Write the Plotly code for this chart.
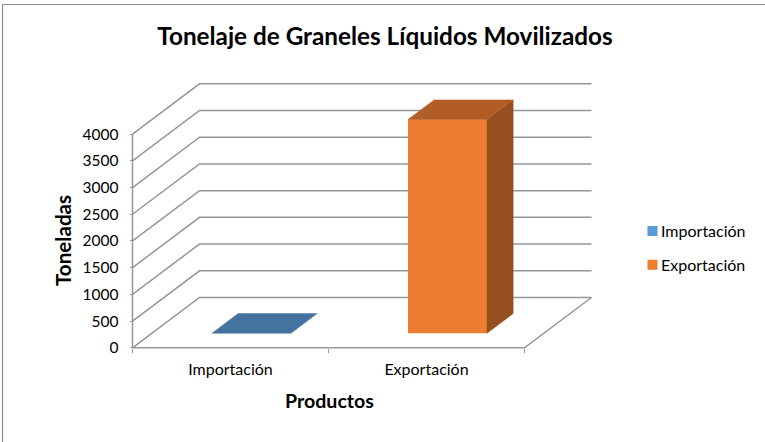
import plotly.graph_objects as go

# ---- data ----
categories = ["Importación", "Exportación"]
series_names = ["Importación", "Exportación"]
importacion = [0, None]
exportacion = [None, 4000]
y_ticks = [0, 500, 1000, 1500, 2000, 2500, 3000, 3500, 4000]

# ---- colours ----
colors_front = ["#5B9BD5", "#ED7D31"]
colors_top = ["#44739F", "#B25D25"]
colors_side = ["#3A6186", "#964F1E"]
grid = "#969696"
text = "#000000"

# ---- layout constants ----
W, H = 765, 442
PX0, PY0 = 132.5, 347.8      # pixel of category edge 0 / value 0
PX_CAT = 196.0               # pixels per category
PX_VAL = 213.7 / 4000        # pixels per value unit
DEPTH_X = 67.0 / PX_CAT      # full depth, in category units
DEPTH_Y = 50.3 / PX_VAL      # full depth, in value units
BAR_D0, BAR_D1 = 0.29, 0.68  # depth span of the bars
BAR_W = 0.403                # bar width, in category units
BAR_SHIFT = 0.008            # bar centre offset within the category

X_RANGE = [(0 - PX0) / PX_CAT, (W - PX0) / PX_CAT]
Y_RANGE = [(PY0 - H) / PX_VAL, PY0 / PX_VAL]


def proj(x, v, d):
    return x + d * DEPTH_X, v + d * DEPTH_Y


def line(points):
    xs, ys = zip(*[proj(*p) for p in points])
    return go.Scatter(x=xs, y=ys, mode="lines", showlegend=False, hoverinfo="skip",
                      line=dict(color=grid, width=1.5))


def face(points, color):
    xs, ys = zip(*[proj(*p) for p in points])
    return go.Scatter(x=list(xs) + [xs[0]], y=list(ys) + [ys[0]], mode="lines", fill="toself",
                      fillcolor=color, line=dict(color=color, width=0.5),
                      showlegend=False, hoverinfo="skip", xaxis="x2", yaxis="y2")


fig = go.Figure()

# walls and floor (bottom subplot)
n = len(categories)
for v in y_ticks:
    fig.add_trace(line([(0, v, 0), (0, v, 1), (n, v, 1)]))
fig.add_trace(line([(0, 0, 0), (0, y_ticks[-1], 0)]))
fig.add_trace(line([(0, 0, 0), (n, 0, 0), (n, 0, 1)]))

# bars (overlaid subplot, so they hide the grid behind them)
for s, (name, values) in enumerate(zip(series_names, [importacion, exportacion])):
    for c, v in enumerate(values):
        if v is None:
            continue
        xc = c + 0.5 + BAR_SHIFT
        x0 = xc - BAR_W / 2
        x1 = xc + BAR_W / 2
        if v > 0:
            fig.add_trace(face([(x1, 0, BAR_D0), (x1, 0, BAR_D1), (x1, v, BAR_D1), (x1, v, BAR_D0)], colors_side[s]))
        fig.add_trace(face([(x0, v, BAR_D0), (x1, v, BAR_D0), (x1, v, BAR_D1), (x0, v, BAR_D1)], colors_top[s]))
        fx, base = proj(xc, 0, BAR_D0)
        fig.add_trace(go.Bar(x=[fx], y=[v], base=[base], width=[BAR_W], name=name, legendgroup=name,
                             marker=dict(color=colors_front[s], line=dict(width=0)),
                             showlegend=True, xaxis="x2", yaxis="y2"))

font = "Lato"
fig.update_layout(
    width=W, height=H, autosize=False,
    margin=dict(l=0, r=0, t=0, b=0),
    paper_bgcolor="white", plot_bgcolor="rgba(0,0,0,0)",
    barmode="overlay",
    font=dict(family=font, color=text, size=16),
    title=dict(text="<b>Tonelaje de Graneles Líquidos Movilizados</b>", x=385 / W, xanchor="center",
               y=1 - 36 / H, yanchor="middle", font=dict(family=font, size=24.3, color=text)),
    legend=dict(x=632.5 / W, y=1 - 214 / H, xanchor="left", yanchor="top", bgcolor="rgba(0,0,0,0)",
                font=dict(family=font, size=16, color=text), traceorder="grouped", tracegroupgap=10,
                itemwidth=30),
    xaxis=dict(range=X_RANGE, domain=[0, 1], anchor="free",
               position=1 - PY0 / H, showgrid=False, zeroline=False, showline=False,
               tickmode="array", tickvals=[i + 0.5 for i in range(n)], ticktext=categories,
               ticks="", ticklabelstandoff=10, tickfont=dict(family=font, size=16, color=text),
               minor=dict(tickmode="array", tickvals=list(range(n + 1)), ticks="outside", ticklen=4,
                          tickcolor=grid, tickwidth=1.2, showgrid=False)),
    yaxis=dict(range=Y_RANGE, domain=[0, 1], anchor="free",
               position=PX0 / W, showgrid=False, zeroline=False, showline=False,
               tickmode="array", tickvals=y_ticks, ticks="outside", ticklen=3, tickcolor=grid,
               tickwidth=1.2, ticklabelstandoff=8, tickfont=dict(family=font, size=15.5, color=text)),
    xaxis2=dict(range=X_RANGE, domain=[0, 1], overlaying="x", visible=False),
    yaxis2=dict(range=Y_RANGE, domain=[0, 1], overlaying="y", visible=False),
    annotations=[
        dict(text="<b>Toneladas</b>", x=63 / W, y=1 - 241 / H, xref="paper", yref="paper", textangle=-90,
             showarrow=False, xanchor="center", yanchor="middle", font=dict(family=font, size=20.6, color=text)),
        dict(text="<b>Productos</b>", x=329 / W, y=1 - 400.5 / H, xref="paper", yref="paper",
             showarrow=False, xanchor="center", yanchor="middle", font=dict(family=font, size=19.6, color=text)),
    ],
    shapes=[
        dict(type="line", xref="paper", yref="paper", x0=2.5 / W, x1=1, y0=1 - 4.5 / H, y1=1 - 4.5 / H,
             line=dict(color="#8C8C8C", width=1.2)),
        dict(type="line", xref="paper", yref="paper", x0=2.5 / W, x1=2.5 / W, y0=1 - 4.5 / H, y1=0,
             line=dict(color="#8C8C8C", width=1.2)),
    ],
)

post = """
document.body.style.margin = '0';
document.querySelectorAll('.legendtext').forEach(function (t) {
    t.setAttribute('x', parseFloat(t.getAttribute('x')) - 11.5);
});
document.querySelectorAll('.legend .legendpoints path').forEach(function (p) {
    p.setAttribute('d', 'M5,5H-5V-5H5Z');
});
"""
fig.write_html("out.html", post_script=post, config={"displayModeBar": False})
